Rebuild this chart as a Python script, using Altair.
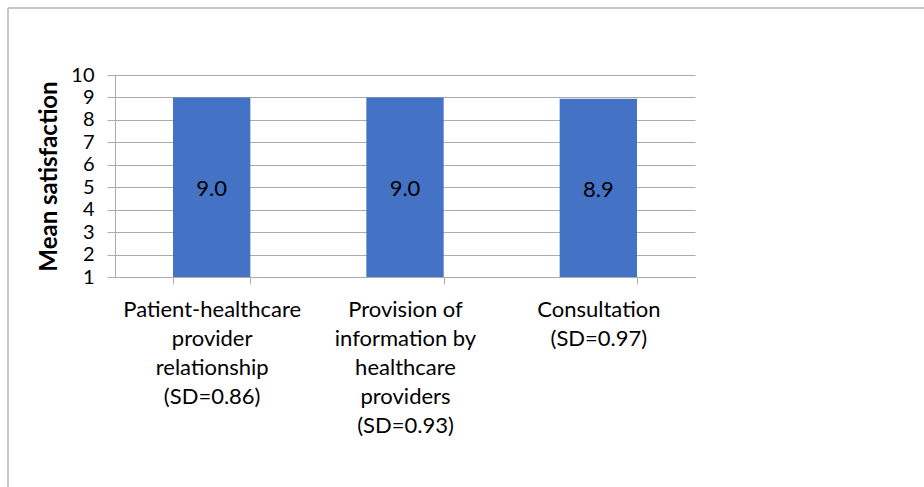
import altair as alt
import pandas as pd

categories = [
    "Patient-healthcare|provider|relationship|(SD=0.86)",
    "Provision of|information by|healthcare|providers|(SD=0.93)",
    "Consultation|(SD=0.97)",
]
means = [9.0, 9.0, 8.94]
y_ticks = [1, 2, 3, 4, 5, 6, 7, 8, 9, 10]

df = pd.DataFrame({"cat": categories, "mean": means})

FONT = "Lato"
GRID = "#ABABAB"
y_scale = alt.Scale(domain=[1, 10], zero=False, nice=False)
x_scale = alt.Scale(paddingInner=0.6, paddingOuter=0.3)

x_axis = alt.Axis(
    title=None,
    labelExpr="split(datum.label, '|')",
    labelAngle=0,
    labelFont=FONT,
    labelFontSize=22,
    labelLineHeight=29,
    labelColor="#000000",
    labelPadding=15,
    labelBaseline="top",
    tickBand="extent",
    tickSize=7,
    tickColor=GRID,
    domainColor=GRID,
    grid=False,
    labelLimit=300,
    labelOverlap=False,
)

y_axis = alt.Axis(
    title="Mean satisfaction",
    titleFont=FONT,
    titleFontSize=24,
    titleFontWeight="bold",
    titleColor="#000000",
    titlePadding=9,
    values=y_ticks,
    labelFont=FONT,
    labelFontSize=20,
    labelColor="#000000",
    labelPadding=13,
    labelOverlap=False,
    tickSize=8,
    tickColor=GRID,
    domainColor=GRID,
    gridColor=GRID,
    gridWidth=1,
)

bars = alt.Chart(df).mark_bar(color="#4472C4").encode(
    x=alt.X("cat:N", sort=categories, scale=x_scale, axis=x_axis),
    y=alt.Y("mean:Q", scale=y_scale, axis=y_axis),
    y2=alt.datum(1),
)

labels = alt.Chart(df).transform_calculate(
    mid="(datum.mean + 1) / 2"
).mark_text(font=FONT, fontSize=22, color="#000000", baseline="middle", dy=2).encode(
    x=alt.X("cat:N", sort=categories, scale=x_scale, axis=x_axis),
    y=alt.Y("mid:Q", scale=y_scale, axis=y_axis),
    text=alt.Text("mean:Q", format=".1f"),
)

border = alt.Chart(df).mark_rect(fill=None, stroke="#BFBFBF", strokeWidth=1).encode(
    x=alt.value(-107), x2=alt.value(900), y=alt.value(-67), y2=alt.value(500)
)

chart = alt.layer(border, bars, labels).properties(
    width=580,
    height=202,
    autosize=alt.AutoSizeParams(type="none"),
    padding={"left": 115, "top": 75, "right": 229, "bottom": 210},
).configure_view(stroke=None)

chart.save("out.html", embed_options={"renderer": "svg", "actions": False})
